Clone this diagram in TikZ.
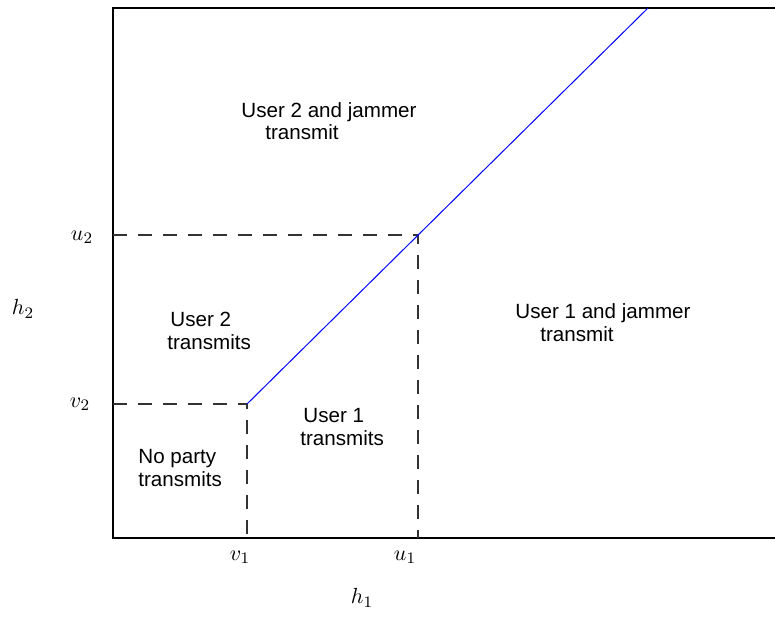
\documentclass[tikz,border=0pt]{standalone}
\usepackage{amsmath}
\usepackage{fontspec}
\newfontfamily\regionfont{Liberation Sans}

\begin{document}
\begin{tikzpicture}[x = 50pt, y = 50pt,
  region/.style = {align = left, anchor = base west, inner sep = 0pt,
    font = \regionfont\fontsize{10.3}{11.3}\selectfont},
  ticklabel/.style = {inner sep = 0pt, font = \fontsize{11}{13}\selectfont},
  guide/.style = {dash pattern = on 7pt off 5.5pt, line width = 0.55pt, black!80},
  frame/.style = {line width = 0.75pt}]
\useasboundingbox (-1.13, -0.78) rectangle (6.62, 5.38);
% corner points
\coordinate (o) at (0.0, 0.0);
\coordinate (v) at (1.34, 1.34);
\coordinate (u) at (3.05, 3.03);
\coordinate (t) at (5.35, 5.30);
\coordinate (tl) at (0.0, 5.30);
\coordinate (tr) at (6.62, 5.30);
\coordinate (br) at (6.62, 0.0);
% frame and thresholds
\draw[frame] (tr) -- (tl) -- (o) -- (br);
\draw[guide] (v -| o) -- (v) -- (v |- o);
\draw[guide] (u -| o) -- (u) -- (u |- o);
\draw[blue, line width = 0.5pt] (v) -- (t);
% regions
\node[region] (none) at (0.25, 0.52) {No party\\transmits};
\node[region] (one) at (1.87, 0.93) {\hspace*{1.5pt}User 1\\transmits};
\node[region] (two) at (0.54, 1.89) {\hspace*{1.5pt}User 2\\transmits};
\node[region] (onejam) at (4.02, 1.97) {User 1 and jammer\\\hspace*{12.5pt}transmit};
\node[region] (twojam) at (1.28, 3.98) {User 2 and jammer\\\hspace*{12pt}transmit};
% axis labels
\node[ticklabel] (lv1) at (1.27, -0.19) {$v_1$};
\node[ticklabel] (lu1) at (2.92, -0.19) {$u_1$};
\node[ticklabel] (lh1) at (2.49, -0.60) {$h_1$};
\node[ticklabel] (lv2) at (-0.33, 1.34) {$v_2$};
\node[ticklabel] (lu2) at (-0.31, 3.01) {$u_2$};
\node[ticklabel] (lh2) at (-0.90, 2.29) {$h_2$};
\end{tikzpicture}
\end{document}
